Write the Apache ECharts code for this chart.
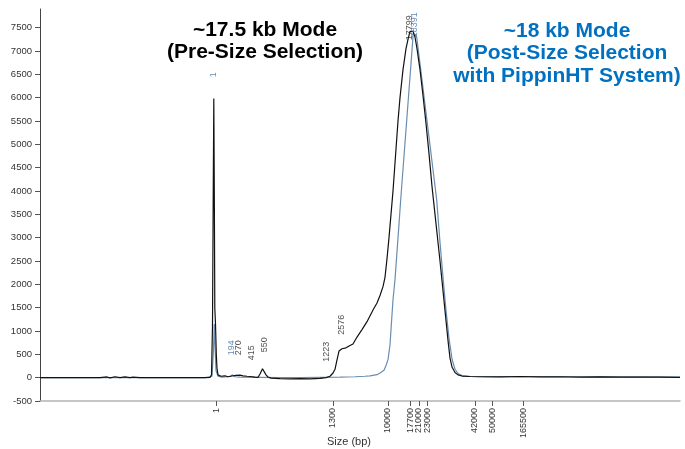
<!DOCTYPE html>
<html><head><meta charset="utf-8">
<script src="https://cdn.jsdelivr.net/npm/echarts@6/dist/echarts.min.js"></script>
<style>html,body{margin:0;padding:0;background:#fff}#c{width:685px;height:449px}</style>
</head><body><div id="c"></div>
<script>
// x axis: migration position units; tick positions with their size labels (bp)
const xTickPos = [176.5, 293, 348, 370.5, 379, 387.5, 435, 452.3, 483.3];
const xTickLabels = ['1', '1300', '10000', '17700', '21000', '23000', '42000', '50000', '165500'];
const yTicks = [-500, 0, 500, 1000, 1500, 2000, 2500, 3000, 3500, 4000, 4500, 5000, 5500, 6000, 6500, 7000, 7500];

// Pre-size selection trace (black)
const preSelection = [[0,0],[60,0],[67,15],[70,-5],[75,20],[80,0],[85,15],[90,0],[93,10],[100,0],[140,0],[165,0],[170,5],[171.5,60],[172.5,1100],[173.3,4200],[173.8,5980],[174.3,4000],[174.8,1500],[175.5,1150],[176.3,500],[177,200],[178,60],[181,30],[185,40],[188,20],[192,35],[196,50],[198,80],[200,55],[203,40],[207,30],[210,25],[212,35],[215,10],[218,5],[220,80],[222.5,190],[224,150],[226,60],[228,15],[231,-10],[240,-20],[250,-25],[260,-20],[270,-25],[280,-15],[286,0],[290,30],[293,100],[295,180],[297,380],[299,570],[302,620],[306,640],[310,690],[313,720],[317,870],[322,1030],[327,1200],[333,1450],[337,1600],[340,1760],[343,1950],[345,2150],[347,2550],[349,3000],[351,3500],[353,4000],[355,4600],[358,5500],[360,6000],[363,6600],[366,7050],[368,7250],[370,7420],[371,7460],[373,7420],[375,7300],[377,7050],[380,6600],[383,6050],[386,5450],[389,4800],[392,4100],[396,3300],[400,2500],[404,1650],[408,800],[410,420],[412,230],[415,110],[418,60],[422,35],[430,25],[440,20],[460,15],[480,25],[500,15],[520,20],[540,10],[560,15],[580,10],[600,10],[620,10],[640,5]];

// Post-size selection trace (blue)
const postSelection = [[0,0],[165,0],[172,30],[173.5,600],[174.3,1150],[175,700],[176,150],[178,30],[182,10],[190,25],[192.5,60],[195,20],[200,10],[220,5],[240,0],[260,0],[280,5],[300,10],[315,20],[325,30],[330,40],[337,64],[340,100],[344,160],[346,260],[348,386],[350,700],[351,1029],[353,1670],[355,2100],[357,2700],[358.7,3200],[360.7,3814],[364,4750],[368,5880],[371,6730],[373.3,7390],[375,7400],[376.7,7300],[380,6730],[384,6030],[388,5330],[392,4630],[394,4280],[396.7,3810],[400,2900],[403,2150],[406,1450],[409,850],[412,400],[415,180],[418,90],[422,45],[430,25],[450,20],[480,20],[520,20],[560,15],[600,15],[640,10]];

// Peak annotations [position, value, text]
const preLabels = [[199,643,'270'],[212,536,'415'],[225,707,'550'],[287,557,'1223'],[302,1136,'2576'],[369.5,7500,'17799']];
const postLabels = [[174,6493,'1'],[192,643,'194'],[375,7564,'18391']];

const FONT = '"Liberation Sans", Arial, sans-serif';
const chart = echarts.init(document.getElementById('c'), null, {renderer: 'canvas'});

function labelSeries(data, color) {
  return {
    type: 'scatter', data: data, symbolSize: 0, silent: true, z: 5,
    label: {
      show: true, position: 'inside', rotate: 90, color: color,
      fontFamily: FONT, fontSize: 9,
      formatter: p => p.data[2]
    }
  };
}

chart.setOption({
  animation: false,
  backgroundColor: '#fff',
  grid: {left: 40, right: 5, top: 9, bottom: 48, containLabel: false},
  xAxis: {
    type: 'value', min: 0, max: 640,
    axisLine: {show: true, onZero: false, lineStyle: {color: '#b4b4b4', width: 1.5}},
    splitLine: {show: false},
    axisTick: {show: true, customValues: xTickPos, length: 5, lineStyle: {color: '#555'}},
    axisLabel: {
      customValues: xTickPos, rotate: 90, margin: 7, color: '#333',
      fontFamily: FONT, fontSize: 9,
      formatter: v => { const i = xTickPos.indexOf(v); return i >= 0 ? xTickLabels[i] : ''; }
    }
  },
  yAxis: {
    type: 'value', min: -500, max: 7900,
    axisLine: {show: true, onZero: false, lineStyle: {color: '#444', width: 1}},
    splitLine: {show: false},
    axisTick: {show: true, customValues: yTicks, length: 5, lineStyle: {color: '#555'}},
    axisLabel: {customValues: yTicks, margin: 8, color: '#333', fontFamily: FONT, fontSize: 9.5,
      formatter: v => String(v)}
  },
  series: [
    {type: 'line', data: postSelection, showSymbol: false, lineStyle: {color: '#6a8db0', width: 1.2}, z: 2},
    {type: 'line', data: preSelection, showSymbol: false, lineStyle: {color: '#111', width: 1.2}, z: 3},
    labelSeries(preLabels, '#222'),
    labelSeries(postLabels, '#3a6ea5')
  ],
  graphic: [
    {type: 'text', x: 265, y: 41, style: {text: '~17.5 kb Mode\n(Pre-Size Selection)', font: 'bold 21px ' + FONT, fill: '#000', textAlign: 'center', textVerticalAlign: 'middle', lineHeight: 22.5}},
    {type: 'text', x: 567, y: 53.5, style: {text: '~18 kb Mode\n(Post-Size Selection\nwith PippinHT System)', font: 'bold 21px ' + FONT, fill: '#0070C0', textAlign: 'center', textVerticalAlign: 'middle', lineHeight: 22.5}},
    {type: 'text', x: 349, y: 442, style: {text: 'Size (bp)', font: '11px ' + FONT, fill: '#333', textAlign: 'center', textVerticalAlign: 'middle'}}
  ]
});
</script>
</body></html>
